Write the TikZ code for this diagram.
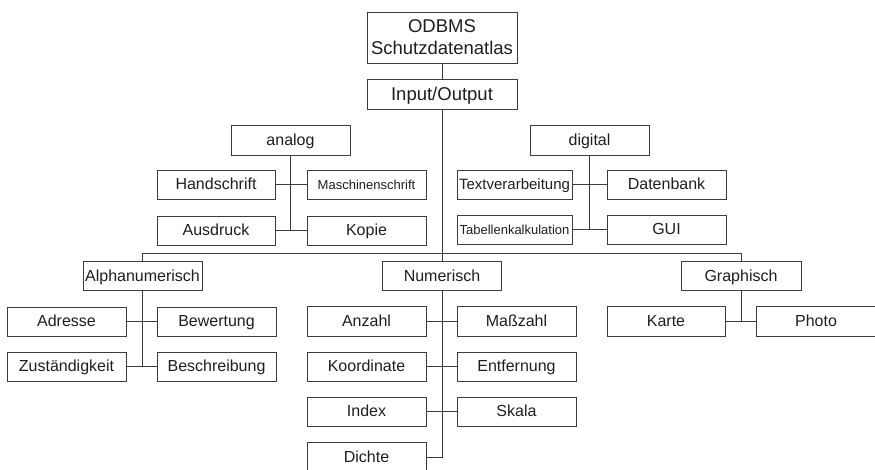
\documentclass[tikz,border=0pt]{standalone}
\usepackage{fontspec}
\setmainfont{Liberation Sans}
\definecolor{linegray}{HTML}{3C3C3C}
\definecolor{textgray}{HTML}{1E1E1E}
\begin{document}
\begin{tikzpicture}[x=1pt,y=-1pt,
  box/.style={draw=linegray,line width=0.9pt,inner sep=0pt,outer sep=0pt,
    minimum width=119pt,minimum height=29pt,text=textgray,
    text height=11.5pt,text depth=1.5pt,
    font=\fontsize{16}{19}\selectfont},
  bigbox/.style={draw=linegray,line width=0.9pt,inner sep=0pt,outer sep=0pt,
    minimum width=150pt,text=textgray,font=\fontsize{18.5}{22}\selectfont},
  smalltext/.style={font=\fontsize{13}{15}\selectfont,text height=9.5pt,text depth=0.5pt},
  midtext/.style={font=\fontsize{15}{18}\selectfont,text height=10.8pt,text depth=0.5pt},
  conn/.style={draw=linegray,line width=0.9pt}]
\clip (0,0) rectangle (875,469);

% root and input/output
\node[bigbox,minimum height=51pt,align=center] (root) at (442,37.5) {ODBMS\\Schutzdatenatlas};
\node[bigbox,minimum height=30pt,text height=13.3pt,text depth=1.3pt] (io) at (442,94) {Input/Output};

% analog group
\node[box,minimum height=30pt] (analog) at (290.5,140) {analog};
\node[box,minimum width=118pt] (hand) at (216,184.5) {Handschrift};
\node[box,smalltext] (masch) at (366.5,184.5) {Maschinenschrift};
\node[box,minimum width=118pt] (ausdruck) at (216,230.5) {Ausdruck};
\node[box] (kopie) at (366.5,230.5) {Kopie};

% digital group
\node[box,minimum height=30pt] (digital) at (589.5,140) {digital};
\node[box,minimum width=115pt,midtext] (text) at (514.5,184.5) {Textverarbeitung};
\node[box] (datenbank) at (666.5,184.5) {Datenbank};
\node[box,minimum width=115pt,smalltext] (tabelle) at (514.5,229.5) {Tabellenkalkulation};
\node[box] (gui) at (666.5,229.5) {GUI};

% data types
\node[box] (alpha) at (142.5,276) {Alphanumerisch};
\node[box] (num) at (442,276) {Numerisch};
\node[box,minimum width=120pt] (graph) at (741,276) {Graphisch};

\node[box] (adresse) at (66.5,321.5) {Adresse};
\node[box] (bewertung) at (216.5,321.5) {Bewertung};
\node[box] (zust) at (66.5,366.5) {Zuständigkeit};
\node[box] (beschr) at (216.5,366.5) {Beschreibung};

\node[box,minimum height=30pt] (anzahl) at (366.5,321) {Anzahl};
\node[box,minimum height=30pt] (masszahl) at (516.5,321) {Maßzahl};
\node[box] (koord) at (366.5,366.5) {Koordinate};
\node[box] (entf) at (516.5,366.5) {Entfernung};
\node[box] (index) at (366.5,411.5) {Index};
\node[box] (skala) at (516.5,411.5) {Skala};
\node[box,minimum height=30pt] (dichte) at (366.5,457) {Dichte};

\node[box,minimum width=118pt,minimum height=30pt] (karte) at (666,321) {Karte};
\node[box,minimum width=120pt,minimum height=30pt] (photo) at (816,321) {Photo};

% connectors
\coordinate (barL) at (142.5,253);
\coordinate (barR) at (741,253);
\draw[conn] (root.south) -- (io.north);
\draw[conn] (io.south) -- (io.south |- barL);
\draw[conn] (alpha.north) -- (barL) -- (barR) -- (graph.north);
\draw[conn] (num.north) -- (num.north |- barL);

\draw[conn] (analog.south) -- (analog.south |- kopie.west);
\draw[conn] (hand.east) -- (masch.west);
\draw[conn] (ausdruck.east) -- (kopie.west);

\draw[conn] (digital.south) -- (digital.south |- gui.west);
\draw[conn] (text.east) -- (datenbank.west);
\draw[conn] (tabelle.east) -- (gui.west);

\draw[conn] (alpha.south) -- (alpha.south |- beschr.west);
\draw[conn] (adresse.east) -- (bewertung.west);
\draw[conn] (zust.east) -- (beschr.west);

\coordinate (dj) at (num.south |- dichte.east);
\draw[conn] (num.south) -- (dj) -- (dichte.east);
\draw[conn] (anzahl.east) -- (masszahl.west);
\draw[conn] (koord.east) -- (entf.west);
\draw[conn] (index.east) -- (skala.west);

\draw[conn] (graph.south) -- (graph.south |- photo.west);
\draw[conn] (karte.east) -- (photo.west);
\end{tikzpicture}
\end{document}
